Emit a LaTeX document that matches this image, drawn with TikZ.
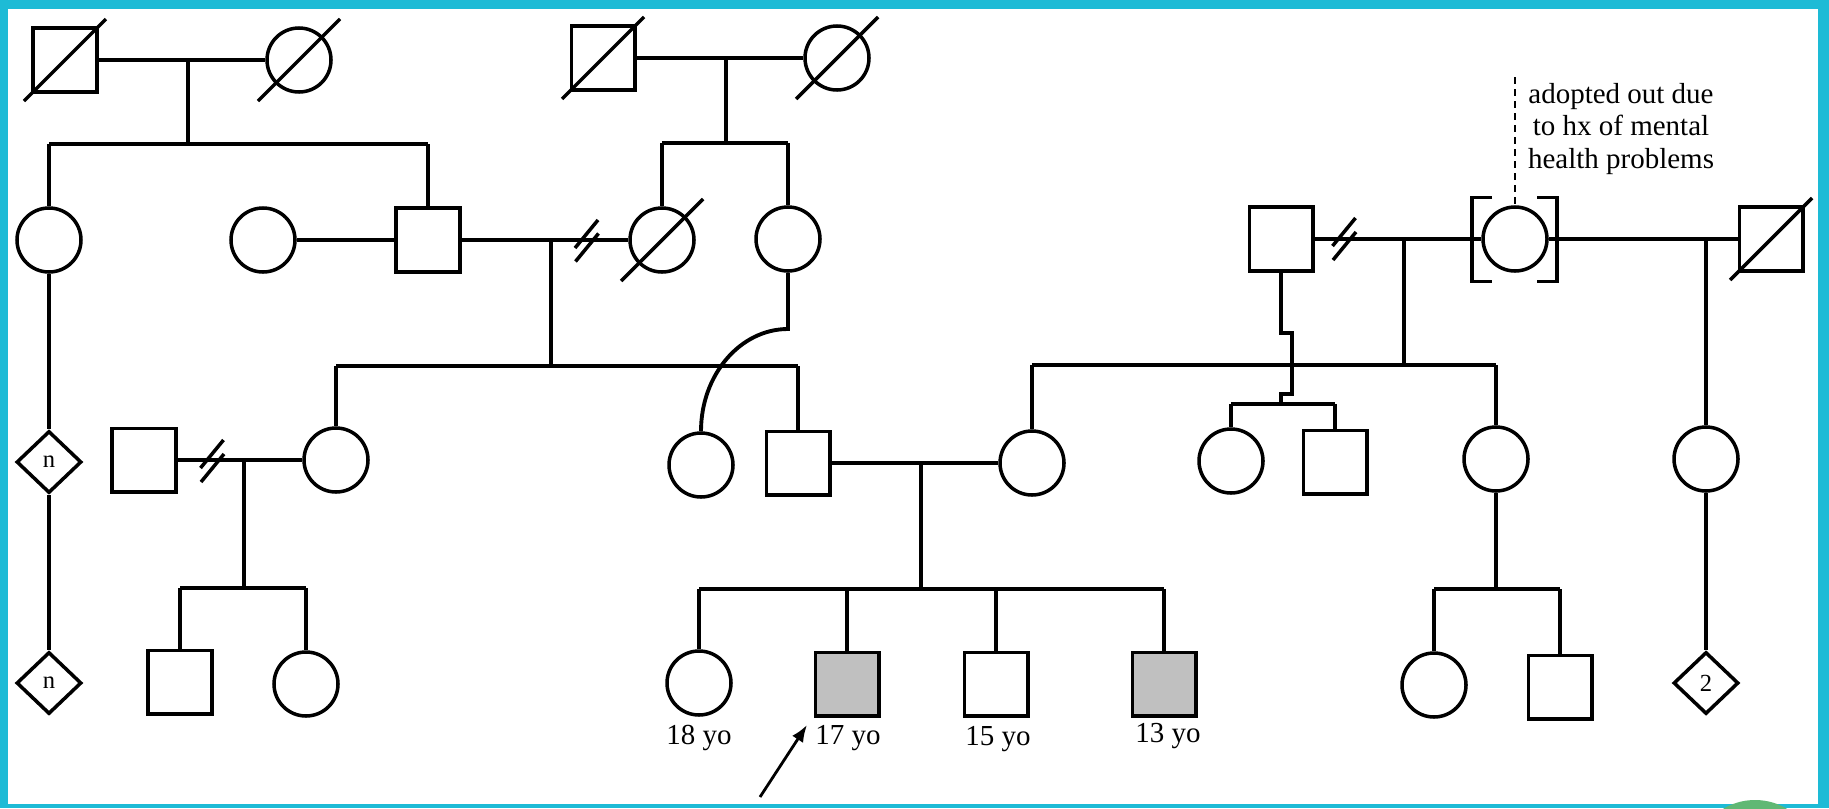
\documentclass[tikz,border=0pt]{standalone}
\usepackage{fontspec}
\setmainfont{Liberation Serif}
\usepackage{tikz}
\usetikzlibrary{shapes.geometric}
\usetikzlibrary{arrows.meta}
\pgfdeclarelayer{background}
\pgfdeclarelayer{nodelayer}
\pgfdeclarelayer{edgelayer}
\pgfsetlayers{background,nodelayer,edgelayer,main}
\definecolor{framecyan}{RGB}{29,187,214}
\definecolor{affected}{RGB}{192,192,192}
\definecolor{badgegreen}{RGB}{96,184,116}
\tikzset{
  every path/.style={line width=2.2pt},
  male/.style={draw, rectangle, fill=white, line width=2pt, minimum size=1.27cm, inner sep=0pt},
  female/.style={draw, circle, fill=white, line width=2pt, minimum size=1.28cm, inner sep=0pt},
  unknown/.style={draw, diamond, fill=white, line width=2pt, minimum width=1.3cm, minimum height=1.24cm, inner sep=0pt, font=\fontsize{14}{14}\selectfont},
  affectedmale/.style={male, fill=affected},
  agelabel/.style={anchor=base, inner sep=0pt, font=\fontsize{16.5}{18.7}\selectfont},
  notelabel/.style={anchor=north, align=center, inner sep=0pt, font=\fontsize{16.5}{18.7}\selectfont},
  slashline/.style={line width=2pt},
  adoptline/.style={line width=1.6pt, dash pattern=on 0.14cm off 0.1cm},
  proband/.style={line width=1.6pt, -{Latex[length=0.34cm, width=0.26cm]}},
}

\begin{document}
\begin{tikzpicture}
  \useasboundingbox (0, 0) rectangle (36.58, -16.16);
  \begin{pgfonlayer}{background}
    \fill [framecyan] (0, 0) rectangle (36.58, -16.16);
    \fill [white] (0.16, -0.18) rectangle (36.36, -16.08);
  \end{pgfonlayer}
  \begin{pgfonlayer}{nodelayer}
    \node [male] (0) at (1.3, -1.2) {};
    \node [female] (1) at (5.98, -1.2) {};
    \node [male] (2) at (12.06, -1.16) {};
    \node [female] (3) at (16.74, -1.16) {};
    \node [female] (4) at (0.98, -4.8) {};
    \node [female] (5) at (5.26, -4.8) {};
    \node [male] (6) at (8.56, -4.8) {};
    \node [female] (7) at (13.24, -4.8) {};
    \node [female] (8) at (15.76, -4.78) {};
    \node [male] (9) at (25.62, -4.78) {};
    \node [female] (10) at (30.3, -4.78) {};
    \node [male] (11) at (35.42, -4.78) {};
    \node [unknown] (12) at (0.98, -9.24) {n};
    \node [male] (13) at (2.88, -9.2) {};
    \node [female] (14) at (6.72, -9.2) {};
    \node [female] (15) at (14.02, -9.3) {};
    \node [male] (16) at (15.96, -9.26) {};
    \node [female] (17) at (20.64, -9.26) {};
    \node [female] (18) at (24.62, -9.22) {};
    \node [male] (19) at (26.7, -9.24) {};
    \node [female] (20) at (29.92, -9.18) {};
    \node [female] (21) at (34.12, -9.18) {};
    \node [unknown] (22) at (0.98, -13.66) {n};
    \node [male] (23) at (3.6, -13.64) {};
    \node [female] (24) at (6.12, -13.68) {};
    \node [female] (25) at (13.98, -13.66) {};
    \node [affectedmale] (26) at (16.94, -13.68) {};
    \node [male] (27) at (19.92, -13.68) {};
    \node [affectedmale] (28) at (23.28, -13.68) {};
    \node [female] (29) at (28.68, -13.7) {};
    \node [male] (30) at (31.2, -13.74) {};
    \node [unknown] (31) at (34.12, -13.66) {2};
    \node [agelabel] (32) at (13.98, -14.88) {18 yo};
    \node [agelabel] (33) at (16.96, -14.88) {17 yo};
    \node [agelabel] (34) at (19.96, -14.9) {15 yo};
    \node [agelabel] (35) at (23.36, -14.84) {13 yo};
    \node [notelabel] (36) at (32.42, -1.62) {adopted out due\\to hx of mental\\health problems};
    \node [] (37) at (3.76, -1.2) {};
    \node [] (38) at (3.76, -2.88) {};
    \node [] (39) at (0.98, -2.88) {};
    \node [] (40) at (8.56, -2.88) {};
    \node [] (41) at (14.52, -1.16) {};
    \node [] (42) at (14.52, -2.86) {};
    \node [] (43) at (13.24, -2.86) {};
    \node [] (44) at (15.76, -2.86) {};
    \node [] (45) at (11.02, -4.8) {};
    \node [] (46) at (11.02, -7.32) {};
    \node [] (47) at (6.72, -7.32) {};
    \node [] (48) at (15.96, -7.32) {};
    \node [] (49) at (15.76, -6.58) {};
    \node [] (50) at (14.8, -6.58) {};
    \node [] (51) at (14.02, -7.5) {};
    \node [] (52) at (28.08, -4.78) {};
    \node [] (53) at (28.08, -7.3) {};
    \node [] (54) at (20.64, -7.3) {};
    \node [] (55) at (29.92, -7.3) {};
    \node [] (56) at (25.62, -6.66) {};
    \node [] (57) at (25.84, -6.66) {};
    \node [] (58) at (25.84, -7.88) {};
    \node [] (59) at (25.62, -7.88) {};
    \node [] (60) at (25.62, -8.08) {};
    \node [] (61) at (24.62, -8.08) {};
    \node [] (62) at (26.7, -8.08) {};
    \node [] (63) at (34.12, -4.78) {};
    \node [] (64) at (4.88, -9.2) {};
    \node [] (65) at (4.88, -11.76) {};
    \node [] (66) at (3.6, -11.76) {};
    \node [] (67) at (6.12, -11.76) {};
    \node [] (68) at (18.42, -9.26) {};
    \node [] (69) at (18.42, -11.78) {};
    \node [] (70) at (13.98, -11.78) {};
    \node [] (71) at (23.28, -11.78) {};
    \node [] (72) at (16.94, -11.78) {};
    \node [] (73) at (19.92, -11.78) {};
    \node [] (74) at (29.92, -11.78) {};
    \node [] (75) at (28.68, -11.78) {};
    \node [] (76) at (31.2, -11.78) {};
    \node [] (77) at (30.3, -1.54) {};
    \node [] (78) at (15.2, -15.94) {};
    \node [] (79) at (16.14, -14.5) {};
  \end{pgfonlayer}
  \begin{pgfonlayer}{edgelayer}
    % first generation
    \draw (0) to (1);
    \draw (37.center) to (38.center);
    \draw (39.center) to (40.center);
    \draw (39.center) to (4);
    \draw (40.center) to (6);
    \draw (2) to (3);
    \draw (41.center) to (42.center);
    \draw (43.center) to (44.center);
    \draw (43.center) to (7);
    \draw (44.center) to (8);
    % second generation
    \draw (5) to (6);
    \draw (6) to (7);
    \draw (45.center) to (46.center);
    \draw (47.center) to (48.center);
    \draw (47.center) to (14);
    \draw (48.center) to (16);
    \draw (8) to (49.center) .. controls (50.center) and (51.center) .. (15);
    \draw (9) to (10);
    \draw (10) to (11);
    \draw (52.center) to (53.center);
    \draw (54.center) to (55.center);
    \draw (54.center) to (17);
    \draw (55.center) to (20);
    \draw (9) to (56.center) to (57.center) to (58.center) to (59.center) to (60.center);
    \draw (61.center) to (62.center);
    \draw (61.center) to (18);
    \draw (62.center) to (19);
    \draw (63.center) to (21);
    % third generation
    \draw (4) to (12);
    \draw (12) to (22);
    \draw (13) to (14);
    \draw (64.center) to (65.center);
    \draw (66.center) to (67.center);
    \draw (66.center) to (23);
    \draw (67.center) to (24);
    \draw (16) to (17);
    \draw (68.center) to (69.center);
    \draw (70.center) to (71.center);
    \draw (70.center) to (25);
    \draw (72.center) to (26);
    \draw (73.center) to (27);
    \draw (71.center) to (28);
    \draw (20) to (74.center);
    \draw (75.center) to (76.center);
    \draw (75.center) to (29);
    \draw (76.center) to (30);
    \draw (21) to (31);
    % deceased
    \draw [slashline] (0.center) ++(-0.82, -0.82) to ++(1.64, 1.64);
    \draw [slashline] (1.center) ++(-0.82, -0.82) to ++(1.64, 1.64);
    \draw [slashline] (2.center) ++(-0.82, -0.82) to ++(1.64, 1.64);
    \draw [slashline] (3.center) ++(-0.82, -0.82) to ++(1.64, 1.64);
    \draw [slashline] (7.center) ++(-0.82, -0.82) to ++(1.64, 1.64);
    \draw [slashline] (11.center) ++(-0.82, -0.82) to ++(1.64, 1.64);
    % divorced
    \draw [slashline] (11.5, -4.96) to (11.96, -4.4);
    \draw [slashline] (11.51, -5.23) to (11.97, -4.67);
    \draw [slashline] (26.65, -4.92) to (27.11, -4.36);
    \draw [slashline] (26.66, -5.2) to (27.12, -4.64);
    \draw [slashline] (4.01, -9.36) to (4.47, -8.8);
    \draw [slashline] (4.02, -9.64) to (4.48, -9.08);
    % adopted out
    \draw [slashline] ([shift={(-0.46, 0.83)}]10.center) -- ++(-0.4, 0) -- ++(0, -1.68) -- ++(0.4, 0);
    \draw [slashline] ([shift={(0.44, 0.83)}]10.center) -- ++(0.4, 0) -- ++(0, -1.68) -- ++(-0.4, 0);
    \draw [adoptline] (77.center) to (10);
    \draw [proband] (78.center) to (79.center);
  \end{pgfonlayer}
  \fill [badgegreen] (35.1, -17.24) circle (1.24);
\end{tikzpicture}
\end{document}
